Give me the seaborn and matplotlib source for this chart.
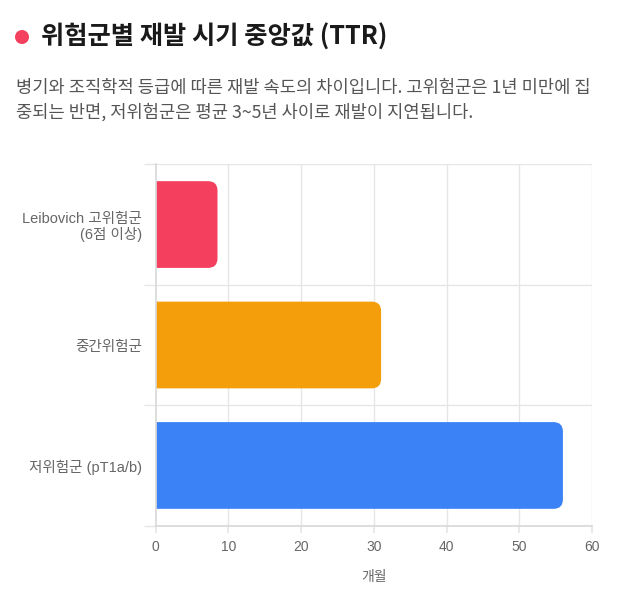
import matplotlib
matplotlib.use("Agg")
import matplotlib.pyplot as plt
from matplotlib.patches import FancyBboxPatch, Circle
import pandas as pd
import seaborn as sns

# Data
groups = ["Leibovich 고위험군\n(6점 이상)", "중간위험군", "저위험군 (pT1a/b)"]
ttr_months = [8.5, 31, 56]
bar_colors = ["#F43F5E", "#F59E0B", "#3B82F6"]
x_ticks = [0, 10, 20, 30, 40, 50, 60]

TITLE = "위험군별 재발 시기 중앙값 (TTR)"
SUBTITLE = ("병기와 조직학적 등급에 따른 재발 속도의 차이입니다. 고위험군은 1년 미만에 집\n"
            "중되는 반면, 저위험군은 평균 3~5년 사이로 재발이 지연됩니다.")
X_LABEL = "개월"

sns.set_theme(style="white")
plt.rcParams["font.family"] = ["Liberation Sans", "Noto Sans CJK KR", "DejaVu Sans"]

GRID = "#e6e6e6"
TEXT = "#666666"

df = pd.DataFrame({"group": groups, "ttr": ttr_months})

fig = plt.figure(figsize=(6.19, 6.11), dpi=100)
ax = fig.add_axes([0.2515, 0.1396, 0.7049, 0.5915])

sns.barplot(data=df, y="group", x="ttr", hue="group", palette=bar_colors,
            legend=False, width=0.72, ax=ax, saturation=1)

# swap the plain bars for ones rounded at the value end
for patch in list(ax.patches):
    x0, y0 = patch.get_x(), patch.get_y()
    w, h = patch.get_width(), patch.get_height()
    color = patch.get_facecolor()
    patch.remove()
    rounded = FancyBboxPatch((x0 - 3, y0), w + 3, h,
                             boxstyle="round,pad=0,rounding_size=1.3",
                             mutation_aspect=0.06,
                             facecolor=color, edgecolor="none", zorder=2)
    ax.add_patch(rounded)

ax.set_xlim(0, 60)
ax.set_ylim(2.5, -0.5)
ax.set_xticks(x_ticks)
ax.set_xticklabels([str(t) for t in x_ticks])
ax.set_yticks([0, 1, 2])
ax.set_yticklabels(groups, linespacing=1.1)
ax.set_ylabel("")
ax.set_xlabel(X_LABEL, color=TEXT, fontsize=10, labelpad=12)

for gx in x_ticks[1:]:
    ax.axvline(gx, color=GRID, lw=1, zorder=0)
for gy in [-0.5, 0.5, 1.5, 2.5]:
    ax.axhline(gy, color=GRID, lw=1, zorder=0)
ax.set_yticks([-0.5, 0.5, 1.5, 2.5], minor=True)

for side in ["top", "right"]:
    ax.spines[side].set_visible(False)
ax.spines["left"].set_color("#d9d9d9")
ax.spines["bottom"].set_color("#d9d9d9")

ax.tick_params(axis="x", which="major", length=5, color=GRID, labelcolor=TEXT,
               labelsize=10, pad=5, bottom=True)
ax.tick_params(axis="y", which="major", length=0, labelcolor=TEXT, labelsize=10.5, pad=10)
ax.tick_params(axis="y", which="minor", length=9, color=GRID, left=True)

# header
fig.patches.append(Circle((0.22, 6.11 - 0.37), 0.07, transform=fig.dpi_scale_trans,
                          facecolor="#F43F5E", edgecolor="none"))
fig.text(41 / 619, 1 - 37 / 611, TITLE, fontsize=18.2, fontweight="bold",
         color="#1a1a1a", ha="left", va="center",
         family=["Noto Sans CJK KR", "DejaVu Sans"])
fig.text(16 / 619, 1 - 79 / 611, SUBTITLE, fontsize=12.7, color="#555555",
         ha="left", va="top", linespacing=1.45,
         family=["Noto Sans CJK KR", "DejaVu Sans"])

fig.savefig("out.png", dpi=100)
